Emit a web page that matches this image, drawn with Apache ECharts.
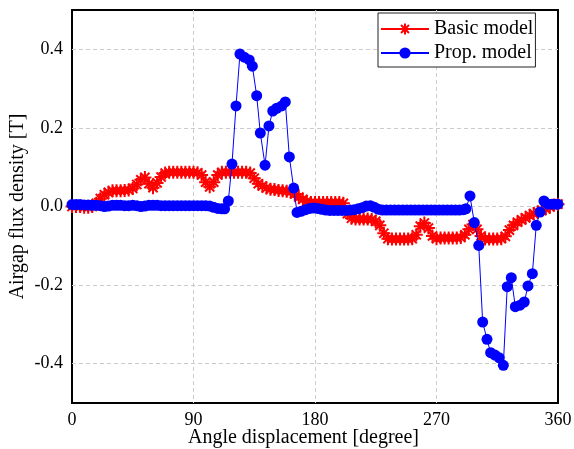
<!DOCTYPE html>
<html>
<head>
<meta charset="utf-8">
<script src="https://cdn.jsdelivr.net/npm/echarts@6/dist/echarts.min.js"></script>
<style>
html,body{margin:0;padding:0;background:#fff;}
#chart{width:574px;height:449px;}
</style>
</head>
<body>
<div id="chart"></div>
<script>
// ---- data ----
const xTicks = [0, 90, 180, 270, 360];
const yTickLabels = ['-0.4', '-0.2', '0.0', '0.2', '0.4'];

const basicAngles = [
  0,3,6,9,12,15,18,21,24,27,30,33,36,39,42,45,48,51,54,57,60,63,66,69,72,75,78,81,84,87,
  90,93,96,99,102,105,108,111,114,117,120,123,126,129,132,135,138,141,144,147,150,153,156,159,162,165,168,171,174,177,
  180,183,186,189,192,195,198,201,204,207,210,213,216,219,222,225,228,231,234,237,240,243,246,249,252,255,258,261,264,267,
  270,273,276,279,282,285,288,291,294,297,300,303,306,309,312,315,318,321,324,327,330,333,336,339,342,345,348,351,354,357,360
];
const basicValues = [
  0.000,0.000,0.000,-0.002,-0.002,0.000,0.008,0.020,0.030,0.036,0.040,0.040,0.040,0.041,0.042,0.046,0.056,0.068,0.074,0.058,
  0.048,0.060,0.075,0.085,0.087,0.087,0.087,0.087,0.087,0.087,
  0.087,0.086,0.080,0.062,0.050,0.062,0.080,0.087,0.087,0.087,0.087,0.087,0.087,0.087,0.085,0.072,0.058,0.052,0.047,0.044,
  0.043,0.041,0.040,0.039,0.037,0.032,0.024,0.018,0.013,0.010,
  0.010,0.010,0.010,0.010,0.010,0.010,0.010,0.008,-0.018,-0.030,-0.032,-0.032,-0.032,-0.032,-0.033,-0.038,-0.048,-0.068,-0.082,-0.083,
  -0.083,-0.083,-0.083,-0.083,-0.082,-0.072,-0.050,-0.042,-0.055,-0.075,
  -0.082,-0.080,-0.080,-0.080,-0.080,-0.080,-0.079,-0.072,-0.058,-0.046,-0.058,-0.075,-0.083,-0.083,-0.083,-0.083,-0.082,-0.076,-0.060,-0.048,
  -0.040,-0.034,-0.029,-0.023,-0.018,-0.014,-0.010,-0.006,-0.001,0.004,0.006
];

const propAngles = [
  0,3,6,9,12,15,18,21,24,27,30,33,36,39,42,45,48,51,54,57,60,63,66,69,72,75,78,81,84,87,
  90,93,96,99,102,105,108,111,113,
  115.8,118.5,121.5,124.4,127.6,131.3,133.6,136.8,139.5,143,145.9,148.7,151.6,155.3,158,161,164.2,166.7,
  170,173,176,179,182,185,188,191,194,197,200,203,206,209,212,215,218,221,224,227,230,233,236,239,242,245,248,251,254,257,
  260,263,266,269,272,275,278,281,284,287,290,291.8,
  294.8,298,301.3,304.2,307.4,310.1,313.3,316.5,319.5,322.4,325.4,328.4,331.9,335,337.8,341,343.9,346.7,349.6,
  352.6,355.6,358.6,360
];
const propValues = [
  0.005,0.005,0.005,0.004,0.004,0.003,0.003,0.002,0.000,0.001,0.003,0.003,0.003,0.002,0.002,0.003,0.002,0.000,0.001,0.003,
  0.003,0.003,0.002,0.002,0.002,0.002,0.002,0.002,0.002,0.002,
  0.002,0.002,0.002,0.002,0.001,-0.002,-0.005,-0.006,-0.006,
  0.014,0.108,0.256,0.388,0.380,0.373,0.357,0.282,0.187,0.105,0.205,0.243,0.250,0.256,0.266,0.126,0.047,-0.015,
  -0.012,-0.008,-0.005,-0.004,-0.005,-0.007,-0.009,-0.010,-0.010,-0.010,-0.010,-0.010,-0.009,-0.008,-0.006,-0.003,0.001,0.002,-0.002,-0.007,
  -0.009,-0.009,-0.009,-0.009,-0.009,-0.009,-0.009,-0.009,-0.009,-0.009,
  -0.009,-0.009,-0.009,-0.009,-0.009,-0.009,-0.009,-0.009,-0.009,-0.009,-0.008,-0.006,
  0.027,-0.041,-0.099,-0.294,-0.338,-0.372,-0.378,-0.385,-0.404,-0.204,-0.181,-0.255,-0.251,-0.243,-0.202,-0.171,-0.048,-0.014,0.014,
  0.006,0.006,0.006,0.006
];

const seriesNames = ['Basic model', 'Prop. model'];
const xTitle = 'Angle displacement [degree]';
const yTitle = 'Airgap flux density [T]';

// ---- chart ----
const FONT = 'Liberation Serif, Times New Roman, serif';
const starPath = 'path://M5 0 L5 10 M0 5 L10 5 M1.46 1.46 L8.54 8.54 M1.46 8.54 L8.54 1.46';

function pairs(xs, ys) { return xs.map((x, i) => [x, ys[i]]); }

const chart = echarts.init(document.getElementById('chart'), null, {renderer: 'canvas'});
chart.setOption({
  animation: false,
  backgroundColor: '#ffffff',
  textStyle: {fontFamily: FONT, color: '#000'},
  grid: {
    left: 72, right: 16, top: 10, bottom: 46,
    outerBoundsMode: 'none',
    containLabel: false,
    show: true, borderColor: '#000', borderWidth: 2, backgroundColor: 'transparent'
  },
  legend: {
    orient: 'vertical',
    left: 378, top: 13,
    backgroundColor: '#fff',
    borderColor: '#222', borderWidth: 1,
    padding: [6, 2, 4, 2],
    itemGap: 4,
    itemWidth: 48, itemHeight: 14,
    textStyle: {fontFamily: FONT, fontSize: 20, color: '#000'},
    data: seriesNames
  },
  xAxis: {
    type: 'value',
    min: xTicks[0], max: xTicks[xTicks.length - 1], interval: 90,
    name: xTitle,
    nameLocation: 'middle',
    nameMoveOverlap: false,
    nameGap: 25,
    nameTextStyle: {fontFamily: FONT, fontSize: 20, color: '#000', padding: [0, 23, 0, 0]},
    axisLine: {show: false},
    axisTick: {show: false},
    axisLabel: {fontFamily: FONT, fontSize: 18, color: '#000', margin: 8},
    splitLine: {show: true, showMinLine: false, showMaxLine: false,
      lineStyle: {color: '#cccccc', type: [4, 3], width: 1}}
  },
  yAxis: {
    type: 'value',
    min: -0.5, max: 0.5, interval: 0.1,
    name: yTitle,
    nameLocation: 'middle',
    nameMoveOverlap: false,
    nameGap: 44,
    nameTextStyle: {fontFamily: FONT, fontSize: 20, color: '#000'},
    axisLine: {show: false},
    axisTick: {show: false},
    axisLabel: {
      fontFamily: FONT, fontSize: 18, color: '#000', margin: 9,
      formatter: function (v) {
        let s = v.toFixed(1);
        if (s === '-0.0') s = '0.0';
        return yTickLabels.indexOf(s) >= 0 ? s : '';
      }
    },
    splitLine: {show: true, lineStyle: {color: ['rgba(0,0,0,0)', '#cccccc'], type: [4, 3], width: 1}}
  },
  series: [
    {
      name: seriesNames[0],
      type: 'line',
      data: pairs(basicAngles, basicValues),
      symbol: starPath,
      symbolSize: 13,
      showAllSymbol: true,
      lineStyle: {color: '#ff0000', width: 1},
      itemStyle: {color: 'rgba(255,0,0,0)', borderColor: '#ff0000', borderWidth: 2},
      z: 2
    },
    {
      name: seriesNames[1],
      type: 'line',
      data: pairs(propAngles, propValues),
      symbol: 'circle',
      symbolSize: 11,
      showAllSymbol: true,
      lineStyle: {color: '#0000ff', width: 1},
      itemStyle: {color: '#0000ff', borderWidth: 0},
      z: 3
    }
  ]
});
</script>
</body>
</html>
